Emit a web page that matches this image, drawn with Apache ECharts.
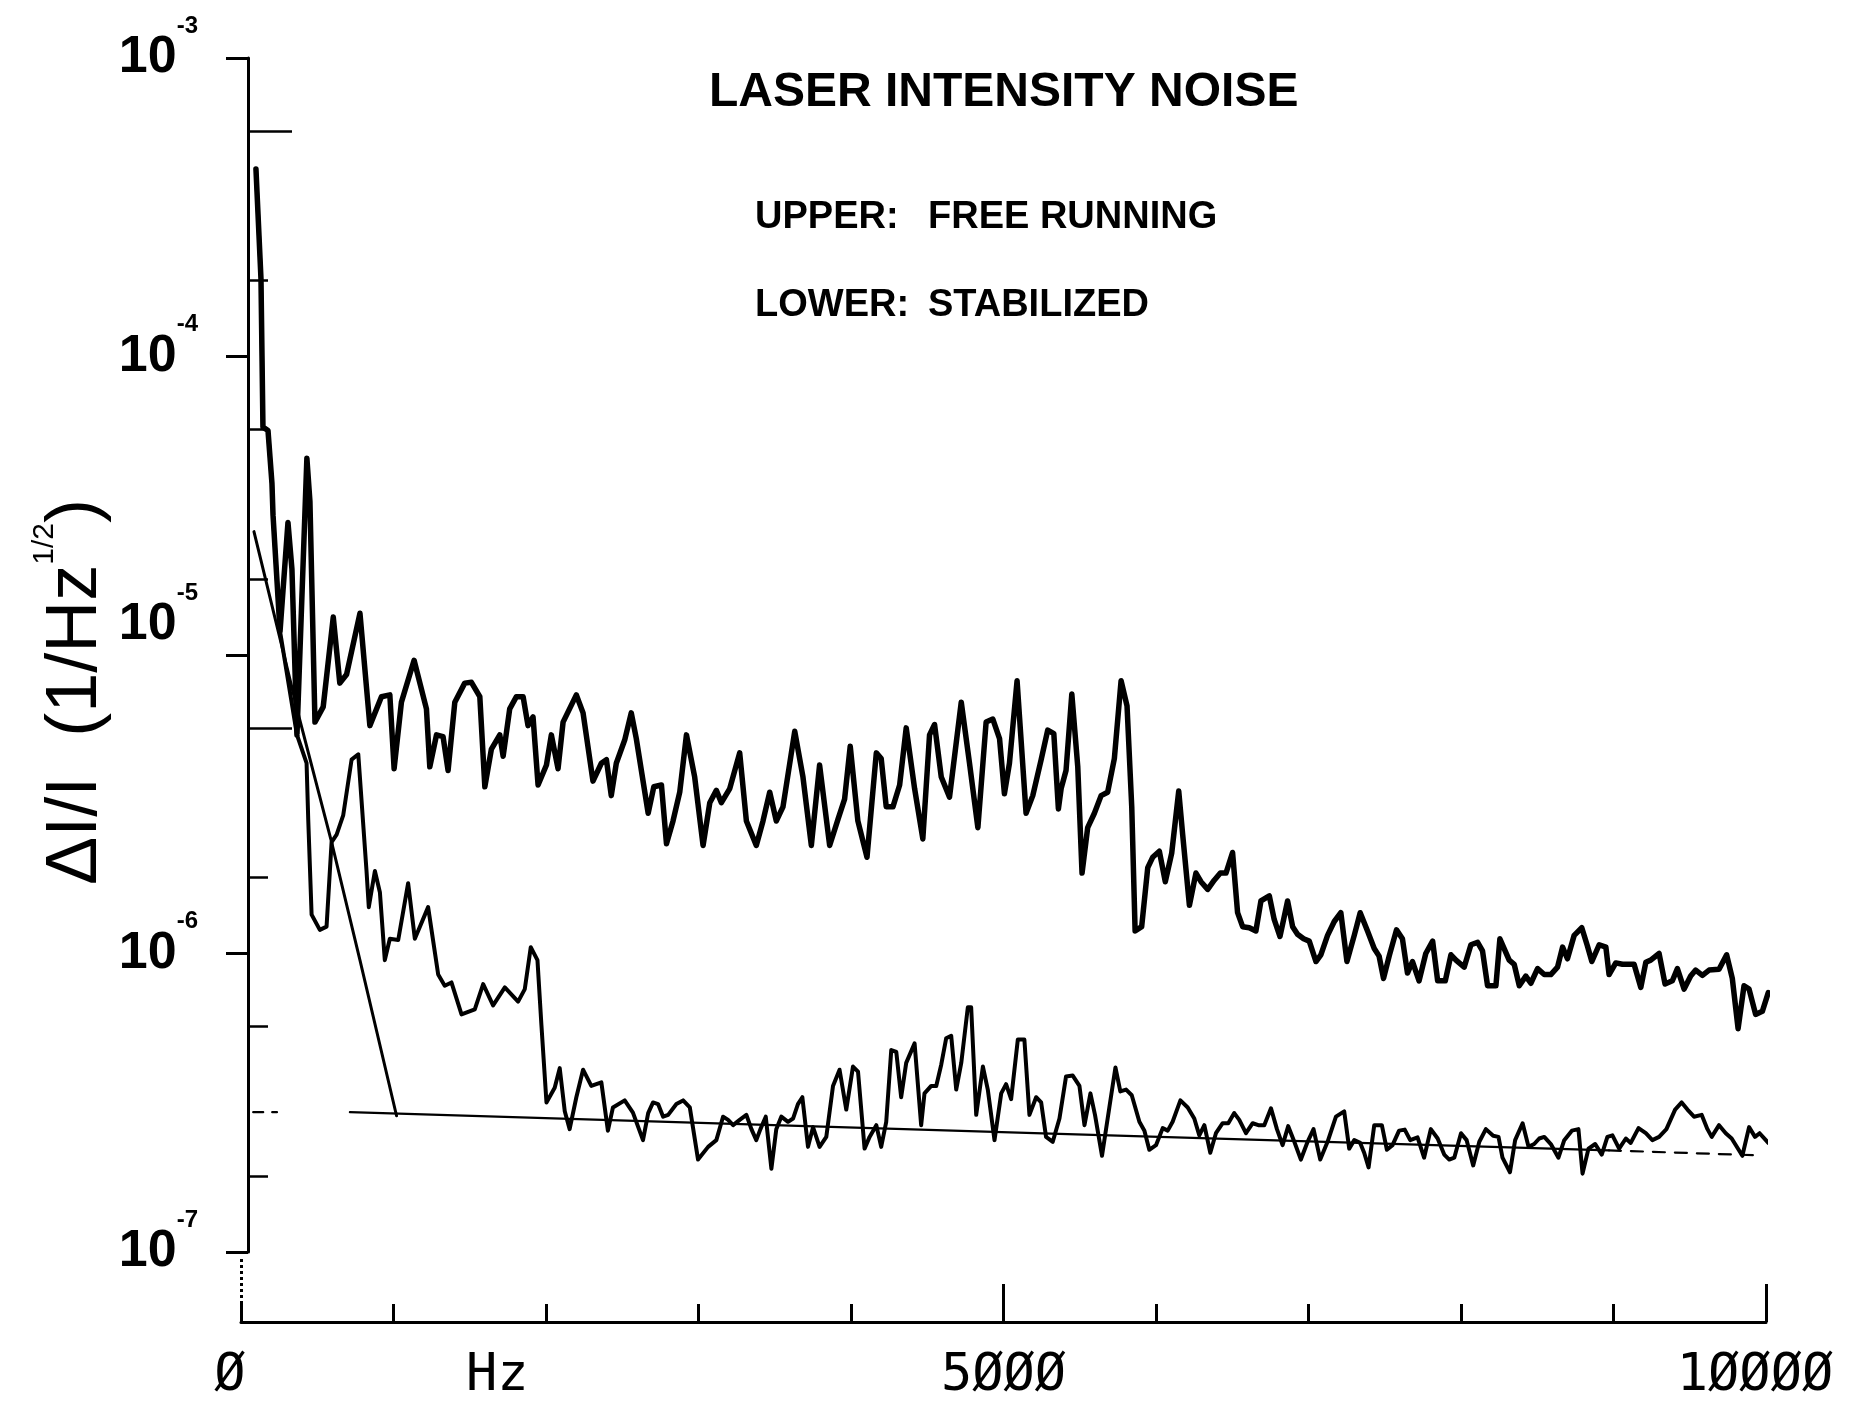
<!DOCTYPE html>
<html><head><meta charset="utf-8">
<script src="https://cdn.jsdelivr.net/npm/echarts@6/dist/echarts.min.js"></script>
<style>html,body{margin:0;padding:0;background:#fff}#c{width:1863px;height:1401px}</style>
</head><body><div id="c"></div>
<script>
// ---------------- data (frequency in Hz, ΔI/I in 1/√Hz) ----------------
const upperHz = [98,131,144,177,203,210,256,308,334,367,432,452,485,539,605,648,692,780,845,921,976,1004,1052,1135,1216,1238,1282,1325,1358,1402,1467,1511,1566,1599,1642,1697,1719,1762,1806,1850,1882,1915,1948,2003,2035,2079,2112,2199,2243,2308,2363,2396,2428,2461,2516,2559,2592,2670,2707,2757,2790,2833,2877,2921,2975,3030,3074,3117,3150,3205,3270,3314,3379,3423,3467,3510,3554,3631,3685,3740,3794,3860,3915,3958,3995,4045,4105,4166,4198,4231,4275,4319,4362,4417,4471,4515,4548,4592,4646,4723,4777,4832,4886,4930,4974,5006,5039,5089,5105,5148,5192,5247,5290,5330,5360,5378,5410,5448,5487,5515,5552,5596,5640,5683,5727,5771,5810,5841,5863,5906,5946,5978,6022,6061,6103,6149,6175,6219,6262,6295,6339,6382,6422,6459,6502,6535,6568,6612,6655,6688,6743,6775,6813,6863,6896,6928,6968,7005,7049,7081,7125,7169,7212,7252,7300,7339,7387,7431,7463,7492,7529,7577,7616,7649,7682,7725,7769,7814,7847,7897,7934,7967,8021,8065,8109,8141,8174,8229,8255,8316,8349,8382,8425,8458,8502,8546,8589,8633,8666,8698,8742,8792,8829,8858,8906,8950,8971,9015,9059,9135,9179,9212,9244,9299,9338,9386,9419,9463,9506,9539,9583,9627,9692,9742,9779,9817,9856,9889,9932,9976,10015];
const upperVal = [4.25e-4,1.82e-4,5.8e-5,5.65e-5,3.76e-5,2.94e-5,1.2e-5,2.78e-5,1.94e-5,5.4e-6,4.56e-5,3.27e-5,5.96e-6,6.7e-6,1.34e-5,8.05e-6,8.6e-6,1.38e-5,5.8e-6,7.25e-6,7.35e-6,4.16e-6,6.95e-6,9.6e-6,6.6e-6,4.22e-6,5.4e-6,5.33e-6,4.1e-6,6.95e-6,8.05e-6,8.1e-6,7.25e-6,3.62e-6,4.84e-6,5.4e-6,4.58e-6,6.6e-6,7.25e-6,7.25e-6,5.8e-6,6.2e-6,3.67e-6,4.28e-6,5.4e-6,4.16e-6,5.96e-6,7.35e-6,6.4e-6,3.78e-6,4.34e-6,4.46e-6,3.38e-6,4.34e-6,5.19e-6,6.4e-6,5.25e-6,2.95e-6,3.62e-6,3.67e-6,2.33e-6,2.78e-6,3.47e-6,5.4e-6,3.9e-6,2.3e-6,3.2e-6,3.52e-6,3.2e-6,3.57e-6,4.7e-6,2.78e-6,2.3e-6,2.78e-6,3.47e-6,2.78e-6,3.1e-6,5.55e-6,3.9e-6,2.3e-6,4.28e-6,2.3e-6,2.82e-6,3.29e-6,4.95e-6,2.78e-6,2.1e-6,4.7e-6,4.5e-6,3.1e-6,3.1e-6,3.67e-6,5.7e-6,3.57e-6,2.42e-6,5.4e-6,5.85e-6,3.9e-6,3.34e-6,6.95e-6,4.34e-6,2.64e-6,5.96e-6,6.1e-6,5.25e-6,3.43e-6,4.34e-6,8.2e-6,6.2e-6,2.95e-6,3.38e-6,4.46e-6,5.6e-6,5.45e-6,3.05e-6,3.57e-6,4.1e-6,7.4e-6,4.22e-6,1.86e-6,2.64e-6,2.95e-6,3.38e-6,3.47e-6,4.5e-6,8.2e-6,6.75e-6,3.1e-6,1.19e-6,1.23e-6,1.94e-6,2.1e-6,2.2e-6,1.74e-6,2.17e-6,3.5e-6,2.5e-6,1.45e-6,1.86e-6,1.74e-6,1.64e-6,1.76e-6,1.86e-6,1.86e-6,2.18e-6,1.37e-6,1.23e-6,1.22e-6,1.19e-6,1.5e-6,1.56e-6,1.3e-6,1.14e-6,1.5e-6,1.23e-6,1.16e-6,1.12e-6,1.1e-6,9.4e-7,9.9e-7,1.15e-6,1.28e-6,1.37e-6,9.4e-7,1.15e-6,1.37e-6,1.19e-6,1.04e-6,9.8e-7,8.25e-7,9.8e-7,1.2e-6,1.12e-6,8.6e-7,9.4e-7,8.1e-7,1.0e-6,1.1e-6,8.1e-7,8.1e-7,9.9e-7,9.5e-7,9.0e-7,1.07e-6,1.09e-6,1.02e-6,7.8e-7,7.8e-7,1.12e-6,9.5e-7,9.2e-7,7.8e-7,8.4e-7,7.95e-7,8.9e-7,8.5e-7,8.5e-7,9.0e-7,1.05e-6,9.6e-7,1.15e-6,1.22e-6,1.06e-6,9.4e-7,1.07e-6,1.05e-6,8.5e-7,9.3e-7,9.2e-7,9.2e-7,7.7e-7,9.35e-7,9.5e-7,1.0e-6,7.9e-7,8.1e-7,8.9e-7,7.6e-7,8.4e-7,8.8e-7,8.45e-7,8.8e-7,8.85e-7,9.9e-7,8.25e-7,5.6e-7,7.8e-7,7.6e-7,6.25e-7,6.4e-7,7.4e-7];

const lowerHz = [98,131,144,177,203,210,256,367,430,441,463,517,561,594,627,670,725,769,823,838,878,911,943,976,1031,1096,1140,1227,1293,1336,1380,1446,1533,1588,1653,1730,1817,1861,1900,1944,1970,2003,2057,2090,2123,2155,2199,2243,2297,2363,2406,2439,2516,2570,2636,2670,2702,2735,2768,2801,2855,2899,2943,2997,3063,3117,3161,3194,3227,3270,3314,3347,3379,3406,3441,3478,3510,3543,3587,3620,3652,3681,3718,3751,3794,3838,3882,3925,3969,4013,4046,4089,4122,4166,4198,4231,4264,4297,4329,4362,4417,4460,4482,4526,4559,4592,4624,4657,4690,4723,4766,4788,4821,4865,4897,4941,4985,5017,5050,5094,5137,5170,5214,5247,5279,5323,5367,5410,5454,5498,5531,5570,5600,5646,5694,5734,5766,5804,5841,5891,5924,5956,6000,6044,6077,6109,6160,6208,6251,6284,6317,6356,6393,6437,6474,6513,6546,6590,6634,6671,6710,6754,6793,6830,6867,6907,6950,6994,7033,7077,7125,7180,7234,7267,7300,7339,7365,7394,7431,7481,7514,7551,7594,7631,7667,7715,7758,7802,7847,7890,7923,7956,8000,8037,8080,8120,8163,8211,8246,8272,8321,8355,8404,8443,8480,8513,8546,8589,8639,8677,8727,8770,8797,8836,8880,8923,8960,8993,9037,9081,9113,9164,9212,9255,9299,9347,9404,9447,9485,9528,9578,9616,9644,9692,9736,9775,9845,9889,9928,9958,10015];
const lowerVal = [4.25e-4,1.82e-4,5.8e-5,5.65e-5,3.76e-5,2.94e-5,1.2e-5,5.4e-6,4.34e-6,2.8e-6,1.35e-6,1.2e-6,1.23e-6,2.36e-6,2.5e-6,2.9e-6,4.46e-6,4.65e-6,1.89e-6,1.43e-6,1.89e-6,1.6e-6,9.5e-7,1.12e-6,1.11e-6,1.72e-6,1.12e-6,1.43e-6,8.5e-7,7.8e-7,8.0e-7,6.25e-7,6.5e-7,7.9e-7,6.7e-7,7.7e-7,6.9e-7,7.6e-7,1.05e-6,9.5e-7,5.75e-7,3.17e-7,3.55e-7,4.13e-7,2.96e-7,2.58e-7,3.3e-7,4.08e-7,3.6e-7,3.7e-7,2.55e-7,3.05e-7,3.22e-7,2.93e-7,2.37e-7,2.92e-7,3.17e-7,3.13e-7,2.84e-7,2.88e-7,3.13e-7,3.22e-7,3.05e-7,2.04e-7,2.25e-7,2.37e-7,2.84e-7,2.77e-7,2.66e-7,2.77e-7,2.88e-7,2.58e-7,2.37e-7,2.58e-7,2.84e-7,1.9e-7,2.58e-7,2.84e-7,2.73e-7,2.8e-7,3.13e-7,3.3e-7,2.25e-7,2.62e-7,2.25e-7,2.43e-7,3.6e-7,4.08e-7,3.0e-7,4.18e-7,4.02e-7,2.22e-7,2.43e-7,2.66e-7,2.25e-7,2.73e-7,4.75e-7,4.68e-7,3.3e-7,4.3e-7,5.0e-7,2.66e-7,3.4e-7,3.6e-7,3.6e-7,4.25e-7,5.2e-7,5.3e-7,3.5e-7,4.3e-7,6.6e-7,6.6e-7,2.88e-7,4.18e-7,3.5e-7,2.37e-7,3.4e-7,3.65e-7,3.25e-7,5.15e-7,5.15e-7,2.88e-7,3.3e-7,3.17e-7,2.43e-7,2.34e-7,2.8e-7,3.87e-7,3.9e-7,3.6e-7,2.66e-7,3.4e-7,2.88e-7,2.1e-7,3.05e-7,4.15e-7,3.45e-7,3.5e-7,3.35e-7,2.73e-7,2.55e-7,2.2e-7,2.28e-7,2.6e-7,2.55e-7,2.73e-7,3.22e-7,3.05e-7,2.8e-7,2.46e-7,2.66e-7,2.15e-7,2.5e-7,2.7e-7,2.7e-7,2.92e-7,2.77e-7,2.5e-7,2.7e-7,2.66e-7,2.66e-7,3.03e-7,2.58e-7,2.28e-7,2.64e-7,2.34e-7,2.04e-7,2.34e-7,2.58e-7,2.04e-7,2.34e-7,2.84e-7,2.96e-7,2.22e-7,2.37e-7,2.32e-7,2.15e-7,1.92e-7,2.66e-7,2.66e-7,2.2e-7,2.28e-7,2.55e-7,2.57e-7,2.37e-7,2.42e-7,2.07e-7,2.58e-7,2.4e-7,2.12e-7,2.04e-7,2.07e-7,2.5e-7,2.37e-7,1.95e-7,2.34e-7,2.58e-7,2.45e-7,2.43e-7,2.07e-7,1.85e-7,2.37e-7,2.7e-7,2.25e-7,2.3e-7,2.4e-7,2.43e-7,2.3e-7,2.07e-7,2.37e-7,2.55e-7,2.58e-7,1.83e-7,2.22e-7,2.3e-7,2.12e-7,2.43e-7,2.46e-7,2.22e-7,2.4e-7,2.32e-7,2.6e-7,2.5e-7,2.37e-7,2.43e-7,2.58e-7,3.0e-7,3.17e-7,3.0e-7,2.84e-7,2.88e-7,2.58e-7,2.43e-7,2.66e-7,2.5e-7,2.4e-7,2.1e-7,2.62e-7,2.43e-7,2.5e-7,2.32e-7];

// model lines
const slopeHz  = [85, 386, 594, 780, 1020];
const slopeVal = [2.59e-5, 6.05e-6, 2.36e-6, 9.5e-7, 2.86e-7];
const floorHz  = [714, 5203, 8970];
const floorVal = [2.94e-7, 2.5e-7, 2.19e-7];
const floorTailHz  = [8970, 9921];
const floorTailVal = [2.19e-7, 2.11e-7];
const floorStubHz  = [80, 236];
const floorStubVal = [2.94e-7, 2.94e-7];

// axis ticks and labels
const yMin = 1e-7, yMax = 1e-3;
const yMinorLong  = [5.7e-4, 5.7e-6];
const yMinorShort = [1.8e-4, 5.7e-5, 1.8e-5, 1.8e-6, 5.7e-7, 1.8e-7];
const xMin = 0, xMax = 10000, xStep = 1000;
const xLabelValues = [0, 1680, 5000, 10000];
const xLabelTexts  = ['Ø', 'Hz', '5ØØØ', '1ØØØØ'];
const xLongTicks = [5000, 10000];
const xZeroTick  = [0];

const titleText = 'LASER INTENSITY NOISE';
const upperTag = 'UPPER:', upperDesc = 'FREE RUNNING';
const lowerTag = 'LOWER:', lowerDesc = 'STABILIZED';

// ---------------- chart ----------------
const pairs = (xs, ys) => xs.map((x, i) => [x, ys[i]]);
const BOLD = "'Liberation Sans', Arial, Helvetica, sans-serif";
const NARROW = "'Liberation Sans Narrow', 'Liberation Sans', Arial, sans-serif";
const MONO = "'DejaVu Sans Mono', 'Liberation Mono', monospace";
const INK = '#000';

const chart = echarts.init(document.getElementById('c'), null, {renderer: 'canvas'});

const lineSeries = (name, xs, ys, width, type) => ({
  type: 'line', name, data: pairs(xs, ys), xAxisIndex: 0, yAxisIndex: 0,
  symbol: 'none', clip: false, silent: true, animation: false,
  emphasis: {disabled: true},
  lineStyle: {color: INK, width, type: type || 'solid', join: 'round', cap: 'round'}
});

const supStyle = {fontFamily: NARROW, fontWeight: 'bold', fontSize: 24, lineHeight: 24, verticalAlign: 'top', color: INK};
const baseStyle = {fontFamily: NARROW, fontWeight: 'bold', fontSize: 52, lineHeight: 88, verticalAlign: 'middle', color: INK};
const monoStyle = {fontFamily: MONO, fontSize: 52, color: INK};

const hiddenYAxis = (values, length, width) => ({
  type: 'value', min: Math.log10(yMin), max: Math.log10(yMax), position: 'left', offset: -7,
  axisLine: {show: false}, axisLabel: {show: false}, splitLine: {show: false},
  axisTick: {show: true, inside: true, length, customValues: values.map(v => Math.log10(v)),
             lineStyle: {color: INK, width}}
});
const hiddenXAxis = (values, length, width, type) => ({
  type: 'value', min: xMin, max: xMax, position: 'bottom', offset: 70,
  axisLine: {show: false}, axisLabel: {show: false}, splitLine: {show: false},
  axisTick: {show: true, inside: true, length, customValues: values,
             lineStyle: {color: INK, width, type: type || 'solid'}}
});

chart.setOption({
  animation: false,
  backgroundColor: '#fff',
  title: [
    {text: titleText, left: 704, top: 64, textStyle: {fontFamily: BOLD, fontWeight: 'bold', fontSize: 48, color: INK}},
    {text: upperTag, left: 750, top: 194, textStyle: {fontFamily: BOLD, fontWeight: 'bold', fontSize: 38, color: INK}},
    {text: upperDesc, left: 923, top: 194, textStyle: {fontFamily: BOLD, fontWeight: 'bold', fontSize: 38, color: INK}},
    {text: lowerTag, left: 750, top: 282, textStyle: {fontFamily: BOLD, fontWeight: 'bold', fontSize: 38, color: INK}},
    {text: lowerDesc, left: 923, top: 282, textStyle: {fontFamily: BOLD, fontWeight: 'bold', fontSize: 38, color: INK}}
  ],
  grid: {left: 241, right: 97, top: 58, bottom: 149, containLabel: false, outerBoundsMode: 'none'},
  xAxis: [
    {
      type: 'value', min: xMin, max: xMax, interval: xStep, position: 'bottom', offset: 70,
      axisLine: {show: true, lineStyle: {color: INK, width: 3}},
      axisTick: {show: true, inside: true, length: 18, lineStyle: {color: INK, width: 3}},
      splitLine: {show: false},
      axisLabel: {
        show: true, margin: 28, customValues: xLabelValues,
        formatter: v => {
          const i = xLabelValues.indexOf(v);
          if (i < 0) return '';
          const k = (v === xMin || v === xMax) ? 'l' : 'n';
          return '{' + k + '|' + xLabelTexts[i] + '}';
        },
        rich: {
          n: monoStyle,
          l: Object.assign({}, monoStyle, {padding: [0, 22, 0, 0]})
        }
      }
    },
    hiddenXAxis(xLongTicks, 38, 3),
    hiddenXAxis(xZeroTick, 64, 3, 'dotted')
  ],
  yAxis: [
    {
      type: 'log', logBase: 10, min: yMin, max: yMax, position: 'left', offset: -7,
      axisLine: {show: true, lineStyle: {color: INK, width: 3}},
      axisTick: {show: true, inside: false, length: 22, lineStyle: {color: INK, width: 3}},
      minorTick: {show: false}, splitLine: {show: false},
      axisLabel: {
        margin: 50,
        formatter: v => {
          const e = Math.round(Math.log10(v));
          const main = '{b|10}{s|' + e + '}';
          return e === -5 ? main + '\n{gap| }' : main;
        },
        rich: {
          b: baseStyle,
          s: supStyle,
          gap: {fontSize: 10, lineHeight: 60}
        }
      }
    },
    hiddenYAxis(yMinorLong, 44, 2.5),
    hiddenYAxis(yMinorShort, 20, 2.5)
  ],
  graphic: [{
    type: 'text', x: 76, y: 692, rotation: Math.PI / 2, silent: true,
    style: {
      text: '{a|ΔI/I  (1/Hz}{s|1/2}{a|)}',
      align: 'center', verticalAlign: 'middle', fill: INK,
      rich: {
        a: {fontFamily: BOLD, fontSize: 72, lineHeight: 92, verticalAlign: 'middle', fill: INK, color: INK},
        s: {fontFamily: BOLD, fontSize: 30, lineHeight: 30, verticalAlign: 'top', fill: INK, color: INK}
      }
    }
  }],
  series: [
    lineSeries('Upper: free running', upperHz, upperVal, 5.5),
    lineSeries('Lower: stabilized', lowerHz, lowerVal, 4),
    lineSeries('Model slope', slopeHz, slopeVal, 3),
    lineSeries('Model floor', floorHz, floorVal, 2.2),
    lineSeries('Model floor tail', floorTailHz, floorTailVal, 2.2, [12, 10]),
    lineSeries('Model floor stub', floorStubHz, floorStubVal, 2.2, [10, 9])
  ]
});
</script>
</body></html>
